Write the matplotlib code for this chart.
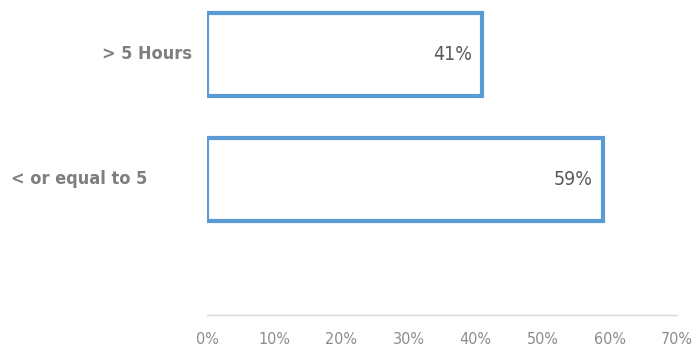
import matplotlib
matplotlib.use("Agg")
import matplotlib.pyplot as plt
from matplotlib.ticker import FuncFormatter

# data
categories = ["< or equal to 5", "> 5 Hours"]
values = [59, 41]
xticks = [0, 10, 20, 30, 40, 50, 60, 70]

font = ["Liberation Sans Narrow", "DejaVu Sans"]
blue = "#5B9BD5"

fig = plt.figure(figsize=(6.96, 3.49), dpi=100)
ax = fig.add_axes([0.2974, 0.0974, 0.6753, 0.9026])

ypos = list(range(len(categories)))
ax.barh(ypos, values, height=0.664, color="white", edgecolor=blue, linewidth=3)

ax.set_xlim(0, 70)
ax.set_ylim(-1.088, 1.432)
ax.set_xticks(xticks)
ax.xaxis.set_major_formatter(FuncFormatter(lambda v, p: f"{v:.0f}%"))
for lab in ax.get_xticklabels():
    lab.set_family(font)
    lab.set_stretch("condensed")
    lab.set_fontsize(11.5)
    lab.set_color("#8C8C8C")
ax.tick_params(axis="x", length=0, pad=12)
ax.set_yticks([])

for s in ["top", "right", "left"]:
    ax.spines[s].set_visible(False)
ax.spines["bottom"].set_color("#D9D9D9")
ax.spines["bottom"].set_linewidth(1)

# category labels (uneven offsets as in source)
label_x = [-0.128, -0.032]
for y, name, lx in zip(ypos, categories, label_x):
    ax.text(lx, y, name, transform=ax.get_yaxis_transform(), ha="right", va="center",
            family=font, stretch="condensed", fontsize=13, fontweight="bold",
            color="#7F7F7F")

# value labels inside end
for y, v in zip(ypos, values):
    ax.annotate(f"{v}%", (v, y), xytext=(-10, 0), textcoords="offset pixels",
                ha="right", va="center", family=font, stretch="condensed",
                fontsize=14, color="#595959")

fig.savefig("out.png", dpi=100)
